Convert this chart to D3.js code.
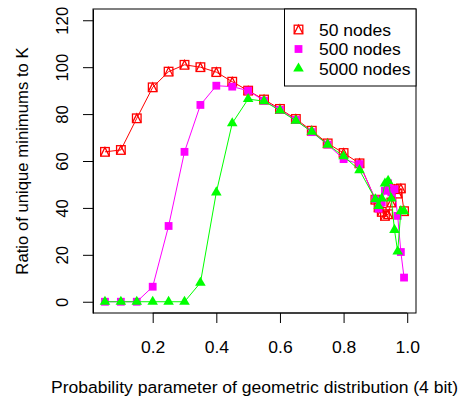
<!DOCTYPE html>
<html><head><meta charset="utf-8">
<script src="https://cdn.jsdelivr.net/npm/d3@7"></script>
<style>body{margin:0;background:#fff}svg{display:block}text{font-family:"Liberation Sans",Arial,sans-serif}</style>
</head><body><svg id="c" width="462" height="403"></svg>
<script>
const pValues = [0.05,0.1,0.15,0.2,0.25,0.3,0.35,0.4,0.45,0.5,0.55,0.6,0.65,0.7,0.75,0.8,0.85,0.9,0.91,0.92,0.93,0.94,0.95,0.96,0.97,0.98,0.99];
const nodes50 = [63.9,64.7,78.2,91.4,98.1,101,100,97.9,93.8,90,86.2,82.2,77.9,72.9,67.5,63.4,59,43.5,40.2,38.3,36.6,37.3,42.3,48,46.1,48.3,38.6];
const nodes500 = [0,0,0,6.4,32.3,63.9,83.9,92.1,91.7,90,85.7,81.8,77.5,72.3,67,60.8,58.7,43.7,39.7,42.3,47.3,50.5,46.6,48,36.6,21.2,10.3];
const nodes5000 = [0,0,0,0,0,0,8.1,46.6,76.1,86.4,85.5,81.5,77.2,72.5,67,62,56.1,43.7,40.8,44,50.4,51.5,44,30.6,21.4,38.6,38.6];
const seriesNames = ["50 nodes","500 nodes","5000 nodes"];
const seriesColors = ["#ff0000","#ff00ff","#00ff00"];
const xTicks = [0.2,0.4,0.6,0.8,1.0];
const yTicks = [0,20,40,60,80,100,120];

const svg = d3.select("#c");
const L=93,R=416,T=9,B=313;
const x = d3.scaleLinear().domain([0.0124,1.0276]).range([L,R]);
const y = d3.scaleLinear().domain([-4.8,124.8]).range([B,T]);
const fs = 16.7, sx = 1.05;

// axes
const xa = svg.append("g").attr("transform",`translate(0,${B})`)
  .call(d3.axisBottom(x).tickValues(xTicks).tickFormat(d3.format(".1f")).tickSizeInner(10).tickSizeOuter(0).tickPadding(18));
xa.select(".domain").attr("d",`M${x(0.2)},0H${x(1.0)}`);
const ya = svg.append("g").attr("transform",`translate(${L},0)`)
  .call(d3.axisLeft(y).tickValues(yTicks).tickFormat(d3.format("d")).tickSizeInner(10).tickSizeOuter(0).tickPadding(0));
ya.selectAll(".tick text").attr("transform","rotate(-90)").attr("text-anchor","middle").attr("x",0).attr("y",-25.5).attr("dy","0");
[xa,ya].forEach(a=>{a.selectAll("text").attr("font-size",fs).attr("font-family","Liberation Sans, Arial, sans-serif").attr("fill","#000");a.selectAll("line,path").attr("stroke","#000");});
xa.selectAll(".tick text").attr("dy","0.71em").attr("transform",`scale(${sx},1)`);

svg.append("rect").attr("x",L).attr("y",T).attr("width",R-L).attr("height",B-T).attr("fill","none").attr("stroke","#000").attr("stroke-width",1);

const seriesData = [nodes50,nodes500,nodes5000];
const line = d3.line().x(d=>x(d[0])).y(d=>y(d[1]));
function marker(g,k,cx,cy){
  if(k===0){
    const s=4.3;
    g.append("rect").attr("x",cx-s).attr("y",cy-s).attr("width",2*s).attr("height",2*s).attr("fill","none").attr("stroke",seriesColors[0]).attr("stroke-width",1.3);
    g.append("path").attr("d",`M${cx-s},${cy+s}L${cx},${cy-s}L${cx+s},${cy+s}`).attr("fill","none").attr("stroke",seriesColors[0]).attr("stroke-width",1.3);
  } else if(k===1){
    const s=3.9;
    g.append("rect").attr("x",cx-s).attr("y",cy-s).attr("width",2*s).attr("height",2*s).attr("fill",seriesColors[1]);
  } else {
    const r=6.1;
    g.append("path").attr("d",`M${cx},${cy-r}L${cx+r*0.866},${cy+r*0.5}L${cx-r*0.866},${cy+r*0.5}Z`).attr("fill",seriesColors[2]);
  }
}
seriesData.forEach((vals,k)=>{
  const pts = pValues.map((p,i)=>[p,vals[i]]);
  const g = svg.append("g");
  g.append("path").attr("d",line(pts)).attr("fill","none").attr("stroke",seriesColors[k]).attr("stroke-width",1);
  pts.forEach(d=>marker(g,k,x(d[0]),y(d[1])));
});

// legend
const lg = svg.append("g");
lg.append("rect").attr("x",284.5).attr("y",T).attr("width",R-284.5).attr("height",77).attr("fill","#fff").attr("stroke","#000");
seriesNames.forEach((n,k)=>{
  const cy = 29.5 + k*19.5;
  marker(lg,k,298.5,cy);
  lg.append("text").attr("transform",`translate(319,${cy}) scale(${sx},1)`).attr("dy","0.36em").attr("font-size",fs).text(n);
});

// titles
svg.append("text").attr("transform",`translate(${(L+R)/2},393) scale(${sx},1)`).attr("text-anchor","middle").attr("font-size",fs).text("Probability parameter of geometric distribution (4 bit)");
svg.append("text").attr("transform",`translate(27.5,${(T+B)/2}) rotate(-90)`).attr("text-anchor","middle").attr("font-size",fs).text("Ratio of unique minimums to K");
</script></body></html>
